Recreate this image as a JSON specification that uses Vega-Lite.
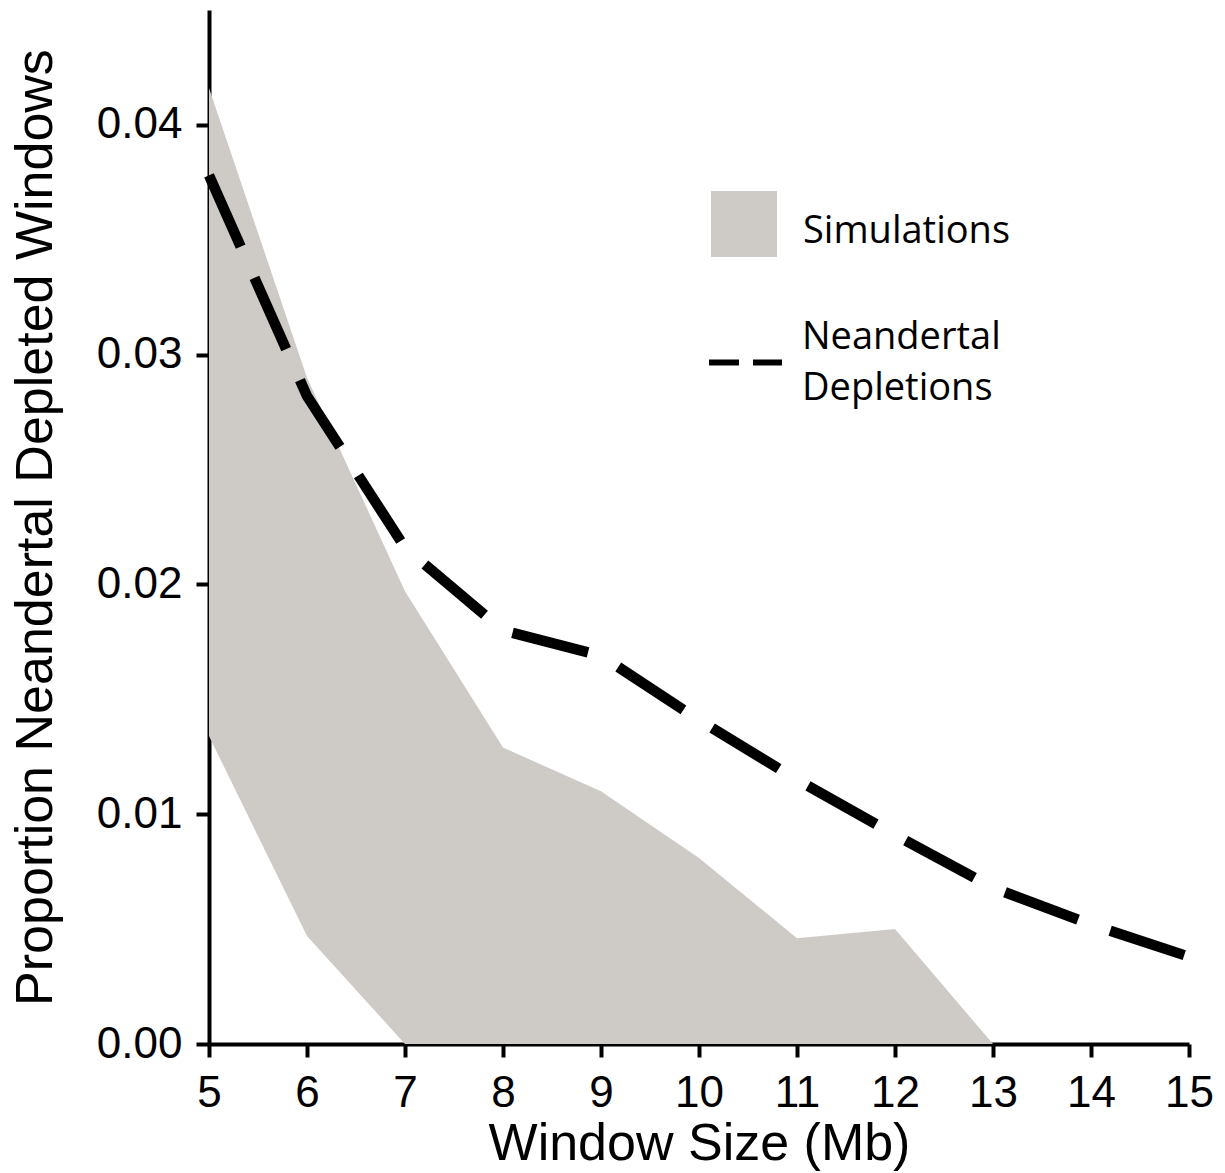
{
  "$schema": "https://vega.github.io/schema/vega-lite/v6.json",
  "autosize": {"type": "none"},
  "padding": {"left": 209, "top": 10, "right": 36, "bottom": 129},
  "width": 980,
  "height": 1034,
  "background": "#ffffff",
  "config": {
    "view": {"stroke": null},
    "axis": {
      "grid": false,
      "domainColor": "#000000",
      "domainWidth": 4,
      "tickColor": "#000000",
      "tickWidth": 4,
      "tickSize": 13,
      "labelFont": "Liberation Sans",
      "labelFontSize": 44,
      "labelColor": "#000000",
      "titleFont": "Liberation Sans",
      "titleFontSize": 52,
      "titleFontWeight": "normal",
      "titleColor": "#000000"
    }
  },
  "data": {
    "values": [
      {"size": 5, "upper": 0.0416, "lower": 0.0134, "neandertal": 0.0378},
      {"size": 6, "upper": 0.0290, "lower": 0.0047, "neandertal": 0.0282},
      {"size": 7, "upper": 0.0197, "lower": 0.0, "neandertal": 0.0216},
      {"size": 8, "upper": 0.0129, "lower": 0.0, "neandertal": 0.0180},
      {"size": 9, "upper": 0.0110, "lower": 0.0, "neandertal": 0.0169},
      {"size": 10, "upper": 0.0081, "lower": 0.0, "neandertal": 0.0141},
      {"size": 11, "upper": 0.0046, "lower": 0.0, "neandertal": 0.0115},
      {"size": 12, "upper": 0.0050, "lower": 0.0, "neandertal": 0.0091},
      {"size": 13, "upper": 0.0, "lower": 0.0, "neandertal": 0.0068},
      {"size": 14, "upper": null, "lower": null, "neandertal": 0.0052},
      {"size": 15, "upper": null, "lower": null, "neandertal": 0.0038}
    ]
  },
  "layer": [
    {
      "transform": [{"filter": "datum.upper != null"}],
      "mark": {"type": "area", "opacity": 1},
      "encoding": {
        "x": {
          "field": "size", "type": "quantitative",
          "scale": {"domain": [5, 15], "nice": false, "zero": false},
          "axis": {
            "title": "Window Size (Mb)",
            "values": [5, 6, 7, 8, 9, 10, 11, 12, 13, 14, 15],
            "format": "d",
            "labelPadding": 14,
            "titlePadding": 3,
            "labelFlush": false
          }
        },
        "y": {
          "field": "upper", "type": "quantitative",
          "scale": {"domain": [0, 0.045], "nice": false},
          "axis": {
            "title": "Proportion Neandertal Depleted Windows",
            "values": [0, 0.01, 0.02, 0.03, 0.04],
            "format": ".2f",
            "labelPadding": 14,
            "titlePadding": 34
          }
        },
        "y2": {"field": "lower"},
        "fill": {
          "datum": "Simulations",
          "type": "nominal",
          "scale": {"range": ["#cecbc7"]},
          "legend": {
            "title": null,
            "orient": "none",
            "legendX": 502,
            "legendY": 181,
            "padding": 0,
            "symbolType": "square",
            "symbolSize": 4356,
            "symbolStrokeWidth": 0,
            "symbolOpacity": 1,
            "labelFont": "Open Sans",
            "labelFontSize": 38,
            "labelColor": "#000000",
            "labelOffset": 26,
            "labelLimit": 400,
            "encode": {"labels": {"update": {"dy": {"value": 8}}}}
          }
        }
      }
    },
    {
      "mark": {"type": "line", "strokeWidth": 10.5, "strokeCap": "butt", "strokeDash": [78, 34]},
      "encoding": {
        "x": {"field": "size", "type": "quantitative"},
        "y": {"field": "neandertal", "type": "quantitative"},
        "stroke": {
          "datum": "Neandertal Depletions",
          "type": "nominal",
          "scale": {"range": ["#000000"]},
          "legend": {
            "title": null,
            "orient": "none",
            "legendX": 497,
            "legendY": 313,
            "padding": 0,
            "symbolType": "stroke",
            "symbolSize": 5329,
            "symbolStrokeWidth": 6,
            "symbolDash": [30, 14],
            "labelFont": "Open Sans",
            "labelFontSize": 38,
            "labelColor": "#000000",
            "labelOffset": 17,
            "labelLimit": 400,
            "labelExpr": "split(datum.label, ' ')",
            "encode": {
              "labels": {"update": {"lineHeight": {"value": 51}, "dy": {"value": -25}}},
              "symbols": {"update": {"strokeDash": {"value": [30, 14]}}}
            }
          }
        }
      }
    }
  ]
}
